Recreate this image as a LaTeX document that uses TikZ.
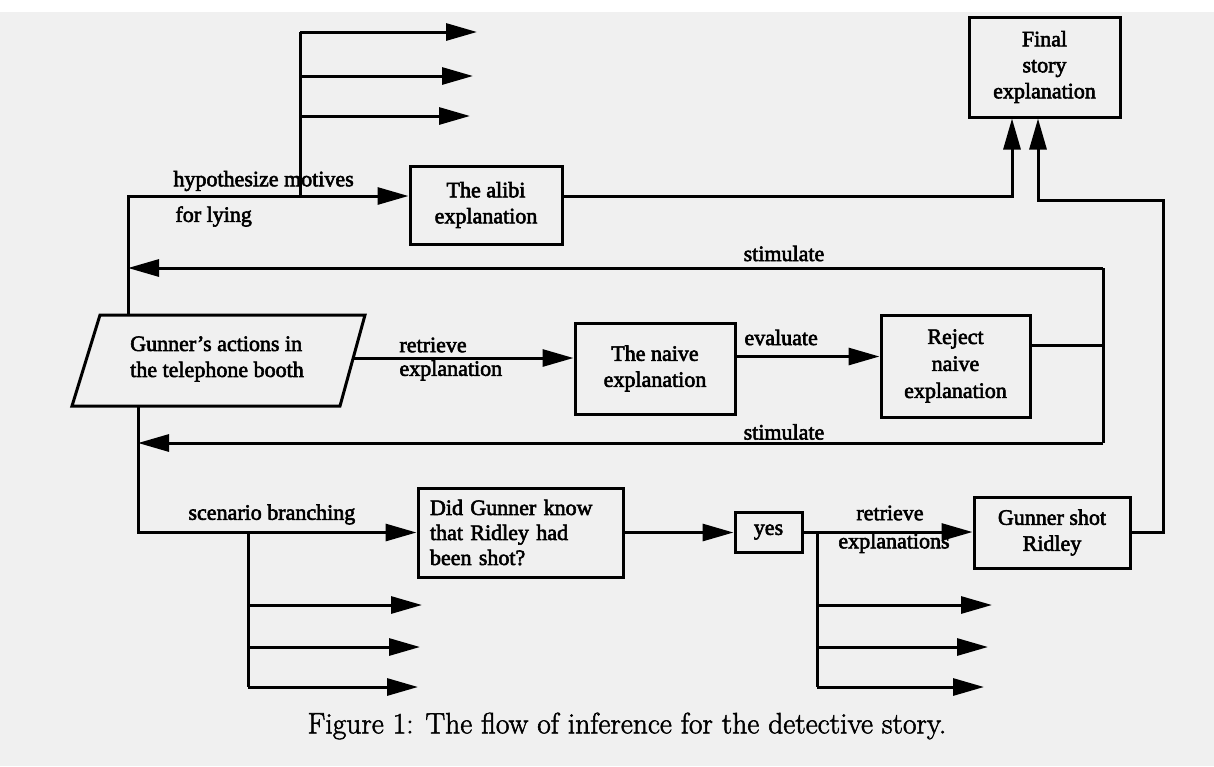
\documentclass[tikz,border=0pt]{standalone}
\usepackage{fontspec}
\setmainfont{Liberation Serif}[FakeBold=2.6]
\newfontfamily\capfont{Latin Modern Roman}[FakeBold=1.8]
\usetikzlibrary{arrows.meta}
\definecolor{paper}{HTML}{F0F0F0}
\begin{document}
\begin{tikzpicture}[x=1pt,y=-1pt,
  line width=3pt,
  >={Triangle[length=31pt,width=17pt]},
  box/.style={draw, line width=3pt, inner sep=0pt, align=center, font=\fontsize{22}{26}\selectfont},
  lbl/.style={inner sep=0pt, font=\fontsize{22}{26}\selectfont},
]
\fill[white] (0,0) rectangle (1214,766);
\fill[paper] (0,12) rectangle (1214,766);
\useasboundingbox (0,0) rectangle (1214,766);

% boxes
\node[box, minimum width=151pt, minimum height=100pt] (final) at (1044.5,67) {Final\\story\\explanation};
\node[box, minimum width=152pt, minimum height=78pt] (alibi) at (486,205) {The alibi\\explanation};
\node[box, minimum width=160pt, minimum height=91pt] (naive) at (655,368.5) {The naive\\explanation};
\node[box, minimum width=149pt, minimum height=102pt, font=\fontsize{22}{27}\selectfont] (reject) at (955.5,366) {Reject\\naive\\explanation};
\node[box, minimum width=205pt, minimum height=89pt, text width=181pt, align=left, font=\fontsize{22}{25}\selectfont] (did) at (520.5,532.5) {Did Gunner know\\that Ridley had\\been shot?};
\node[box, minimum width=67pt, minimum height=40pt] (yes) at (768.5,532) {yes};
\node[box, minimum width=156pt, minimum height=71pt] (shot) at (1052,532.5) {Gunner shot\\Ridley};

% parallelogram input
\draw[line width=3pt] (100,315) -- (365,315) -- (340,406) -- (72,406) -- cycle;
\node[lbl, align=left] (actions) at (217,359) {Gunner's actions in\\the telephone booth};

% named points
\coordinate (pTop) at (128,315);
\coordinate (pBot) at (138,406);
\coordinate (pRight) at (353,358);
\coordinate (hyp) at (128,196);
\coordinate (fanA) at (300,196);
\coordinate (fa1) at (477,32);
\coordinate (fa2) at (473,76);
\coordinate (fa3) at (470,116);
\coordinate (rr) at (1163,200);
\coordinate (st) at (1103,268);
\coordinate (sb) at (1103,443);
\coordinate (sfTop) at (248,532.5);
\coordinate (bl1) at (422,605);
\coordinate (bl2) at (420,647);
\coordinate (bl3) at (418,687);
\coordinate (rfTop) at (817,532);
\coordinate (br1) at (992,605);
\coordinate (br2) at (988,647);
\coordinate (br3) at (984,687);

% hypothesize motives
\draw[->] (pTop) -- (hyp) -- (alibi.west |- hyp);
\draw (fanA) -- (fanA |- fa1);
\draw[->] (fanA |- fa1) -- (fa1);
\draw[->] (fanA |- fa2) -- (fa2);
\draw[->] (fanA |- fa3) -- (fa3);
\node[lbl, anchor=west] (hyp1) at (172,181) {hypothesize motives};
\node[lbl, anchor=west] (hyp2) at (174,216.5) {for lying};

% alibi -> final
\draw[->] (alibi.east |- hyp) -| ([xshift=-32.5pt]final.south);
% shot -> final
\draw[->] (shot.east) -| (rr) -| ([xshift=-6.5pt]final.south);

% retrieve explanation
\draw[->] (pRight) -- (pRight -| naive.west);
\node[lbl, anchor=west] (ret1) at (398,345) {retrieve};
\node[lbl, anchor=west] (ret2) at (398,370.5) {explanation};

% evaluate
\draw[->] ([yshift=12pt]naive.east) -- ([yshift=12pt]naive.east -| reject.west);
\node[lbl, anchor=west] (eval) at (743,337.5) {evaluate};

% stimulate
\draw ([yshift=21pt]reject.east) -- ([yshift=21pt]reject.east -| st);
\draw (st) -- (sb);
\draw[->] (st) -- (hyp |- st);
\draw[->] (sb) -- (pBot |- sb);
\node[lbl] (stim1) at (784,253.5) {stimulate};
\node[lbl] (stim2) at (784,432) {stimulate};

% scenario branching
\draw[->] (pBot) |- (did.west);
\node[lbl, anchor=west] (scen) at (187,514.5) {scenario branching};
\draw (sfTop) -- (sfTop |- bl3);
\draw[->] (sfTop |- bl1) -- (bl1);
\draw[->] (sfTop |- bl2) -- (bl2);
\draw[->] (sfTop |- bl3) -- (bl3);

% did -> yes -> shot
\draw[->] (did.east) -- (did.east -| yes.west);
\draw[->] (yes.east) -- (yes.east -| shot.west);
\node[lbl] (ret3) at (890,513) {retrieve};
\node[lbl] (ret4) at (894,543) {explanations};
\draw (rfTop) -- (rfTop |- br3);
\draw[->] (rfTop |- br1) -- (br1);
\draw[->] (rfTop |- br2) -- (br2);
\draw[->] (rfTop |- br3) -- (br3);

% caption
\node[inner sep=0pt, font=\capfont\fontsize{29.5}{32}\selectfont] (caption) at (627,726) {Figure 1: The flow of inference for the detective story.};
\end{tikzpicture}
\end{document}
